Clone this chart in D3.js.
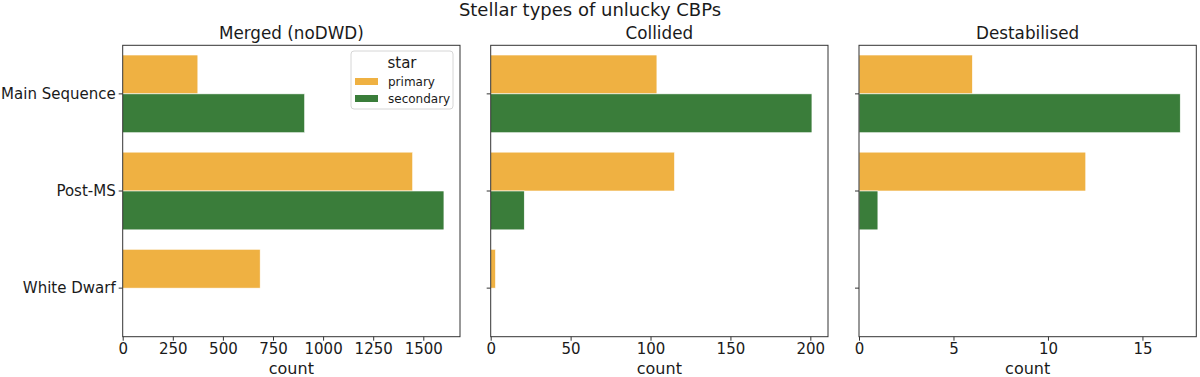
<!DOCTYPE html>
<html>
<head>
<meta charset="utf-8">
<script src="https://cdn.jsdelivr.net/npm/d3@7"></script>
<style>
  body { margin: 0; background: #fff; }
  svg text { font-family: "DejaVu Sans", sans-serif; fill: #1a1a1a; }
</style>
</head>
<body>
<svg id="chart" width="1200" height="377"></svg>
<script>
// data
const categories = ["Main Sequence", "Post-MS", "White Dwarf"];
const stars = ["primary", "secondary"];
const panelTitles = ["Merged (noDWD)", "Collided", "Destabilised"];
const mergedPrimary   = [375, 1447, 686];
const mergedSecondary = [908, 1603, 0];
const collidedPrimary   = [104, 115, 3];
const collidedSecondary = [201, 21, 0];
const destabPrimary   = [6, 12, 0];
const destabSecondary = [17, 1, 0];
const xTicks = [
  [0, 250, 500, 750, 1000, 1250, 1500],
  [0, 50, 100, 150, 200],
  [0, 5, 10, 15]
];

const panels = [
  { title: panelTitles[0], primary: mergedPrimary, secondary: mergedSecondary, ticks: xTicks[0] },
  { title: panelTitles[1], primary: collidedPrimary, secondary: collidedSecondary, ticks: xTicks[1] },
  { title: panelTitles[2], primary: destabPrimary, secondary: destabSecondary, ticks: xTicks[2] }
];

const COLORS = { primary: "#efb142", secondary: "#3a7d3a" };
const LEFTS  = [122.7, 490.7, 859];
const PW     = 337.3;
const TOP    = 45.3;
const BOTTOM = 336.7;

const svg = d3.select("#chart");

// ── Figure title ──
svg.append("text")
  .attr("x", 590).attr("y", 16)
  .attr("text-anchor", "middle")
  .attr("font-size", "18px")
  .text("Stellar types of unlucky CBPs");

const y = d3.scaleBand().domain(categories).range([TOP, BOTTOM]).paddingInner(0).paddingOuter(0);
const inner = d3.scaleBand().domain(stars).range([0, y.bandwidth() * 0.8]);

panels.forEach((p, i) => {
  const left = LEFTS[i];
  const maxV = d3.max(p.primary.concat(p.secondary)) * 1.05;
  const x = d3.scaleLinear().domain([0, maxV]).range([left, left + PW]);
  const g = svg.append("g");

  // ── Bars ──
  stars.forEach(s => {
    const vals = s === "primary" ? p.primary : p.secondary;
    g.selectAll(null)
      .data(categories.map((c, k) => ({ c, v: vals[k] })))
      .join("rect")
      .attr("x", x(0))
      .attr("y", d => y(d.c) + y.bandwidth() * 0.1 + inner(s))
      .attr("width", d => x(d.v) - x(0))
      .attr("height", inner.bandwidth())
      .attr("fill", COLORS[s])
      .attr("stroke", d => d.v > 0 ? "#fff" : "none")
      .attr("stroke-width", 0.6);
  });

  // ── Frame ──
  g.append("rect")
    .attr("x", left).attr("y", TOP)
    .attr("width", PW).attr("height", BOTTOM - TOP)
    .attr("fill", "none")
    .attr("stroke", "#333")
    .attr("stroke-width", 1);

  // ── X axis ──
  const xa = g.append("g")
    .attr("transform", `translate(0,${BOTTOM})`)
    .call(d3.axisBottom(x).tickValues(p.ticks).tickSize(4).tickPadding(3).tickFormat(d3.format("d")));
  xa.select(".domain").remove();
  xa.selectAll(".tick line").attr("stroke", "#333");
  xa.selectAll(".tick text").attr("font-size", "15px").attr("fill", "#1a1a1a");

  g.append("text")
    .attr("x", left + PW / 2).attr("y", 374)
    .attr("text-anchor", "middle")
    .attr("font-size", "16px")
    .text("count");

  // ── Y axis ──
  const ya = g.append("g")
    .attr("transform", `translate(${left},0)`)
    .call(d3.axisLeft(y).tickSize(4).tickPadding(3));
  ya.select(".domain").remove();
  ya.selectAll(".tick line").attr("stroke", "#333");
  ya.selectAll(".tick text")
    .attr("font-size", "15px")
    .attr("fill", "#1a1a1a")
    .text(d => i === 0 ? d : "");

  // ── Panel title ──
  g.append("text")
    .attr("x", left + PW / 2).attr("y", 39)
    .attr("text-anchor", "middle")
    .attr("font-size", "16.8px")
    .text(p.title);
});

// ── Legend (first panel) ──
const lg = svg.append("g");
lg.append("rect")
  .attr("x", 351).attr("y", 51)
  .attr("width", 102).attr("height", 58)
  .attr("rx", 3)
  .attr("fill", "#fff").attr("fill-opacity", 0.8)
  .attr("stroke", "#d6d6d6");
lg.append("text")
  .attr("x", 402).attr("y", 68)
  .attr("text-anchor", "middle")
  .attr("font-size", "15px")
  .text("star");
stars.forEach((s, k) => {
  const yy = 78 + k * 17;
  lg.append("rect")
    .attr("x", 355).attr("y", yy)
    .attr("width", 23).attr("height", 7)
    .attr("fill", COLORS[s]);
  lg.append("text")
    .attr("x", 388).attr("y", yy + 7.5)
    .attr("font-size", "12px")
    .text(s);
});
</script>
</body>
</html>
